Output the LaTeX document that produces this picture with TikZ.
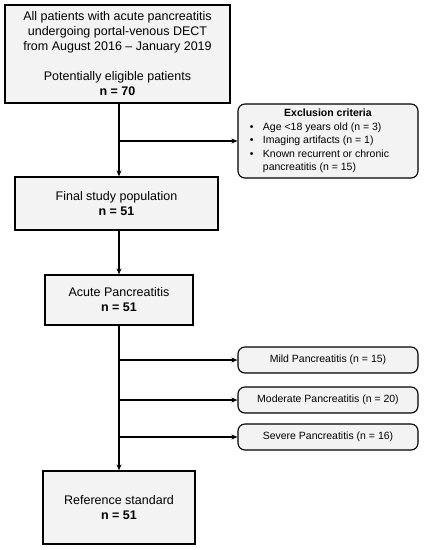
\documentclass[tikz,border=0pt]{standalone}
\usepackage{fontspec}
\setmainfont{Liberation Sans}
\usetikzlibrary{arrows.meta}
\definecolor{boxfill}{HTML}{F3F3F3}
\tikzset{
  mainbox/.style={draw=black, line width=1.3pt, fill=boxfill, align=center, inner sep=0pt,
    font=\fontsize{12.5}{15}\selectfont},
  sidebox/.style={draw=black, line width=1.1pt, fill=boxfill, rounded corners=7pt, align=center,
    inner sep=0pt, minimum width=180pt, font=\fontsize{10.5}{13.5}\selectfont},
  flow/.style={line width=1.3pt, -{Stealth[length=6pt,width=5pt]}},
}
\begin{document}
\begin{tikzpicture}[x=1pt,y=-1pt]
\useasboundingbox (0,0) rectangle (424,550);
\node[mainbox, minimum width=225pt, minimum height=98pt] (b1) at (117.5,54)
  {All patients with acute pancreatitis\\undergoing portal-venous DECT\\from August 2016 – January 2019\\[15pt]Potentially eligible patients\\\textbf{n = 70}};
\node[sidebox, minimum height=74pt] (ex) at (328,141)
  {\begin{tabular}{@{}p{13pt}@{}l@{\hspace{17pt}}}
  \multicolumn{2}{@{}c@{}}{\textbf{Exclusion criteria}}\\
  \textbullet & Age <18 years old (n = 3)\\
  \textbullet & Imaging artifacts (n = 1)\\
  \textbullet & Known recurrent or chronic\\
   & pancreatitis (n = 15)
  \end{tabular}};
\node[mainbox, minimum width=203pt, minimum height=53pt] (fin) at (116.5,203.5)
  {Final study population\\\textbf{n = 51}};
\node[mainbox, minimum width=148pt, minimum height=50pt] (ac) at (119,300)
  {Acute Pancreatitis\\\textbf{n = 51}};
\node[sidebox, minimum height=26pt] (mild) at (328,360) {Mild Pancreatitis (n = 15)};
\node[sidebox, minimum height=26pt] (mod) at (328,400) {Moderate Pancreatitis (n = 20)};
\node[sidebox, minimum height=26pt] (sev) at (328,437) {Severe Pancreatitis (n = 16)};
\node[mainbox, minimum width=152pt, minimum height=73pt] (ref) at (119,507.5)
  {Reference standard\\\textbf{n = 51}};
\coordinate (sx) at (119,0);
\draw[flow] (sx |- b1.south) -- (sx |- fin.north);
\draw[flow] (sx |- ex.west) -- (ex.west);
\draw[flow] (sx |- fin.south) -- (sx |- ac.north);
\draw[flow] (sx |- ac.south) -- (sx |- ref.north);
\draw[flow] (sx |- mild.west) -- (mild.west);
\draw[flow] (sx |- mod.west) -- (mod.west);
\draw[flow] (sx |- sev.west) -- (sev.west);
\end{tikzpicture}
\end{document}
